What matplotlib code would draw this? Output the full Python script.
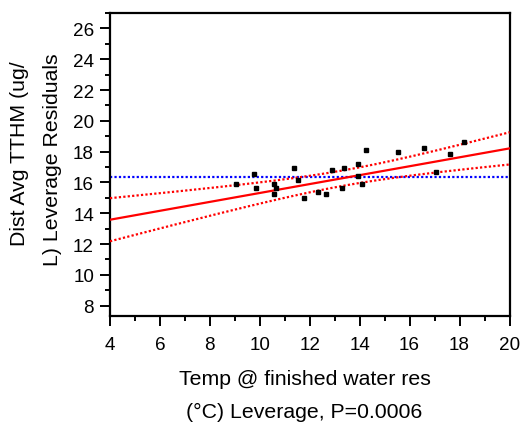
import numpy as np
import matplotlib
matplotlib.use("Agg")
import matplotlib.pyplot as plt
from matplotlib.ticker import MultipleLocator

plt.rcParams['font.family'] = ['Liberation Sans', 'DejaVu Sans']

# Data
temp = [9.05, 9.76, 9.84, 10.56, 10.64, 10.56, 11.36, 11.52, 11.76, 12.32, 12.64, 12.88,
        13.28, 13.36, 13.92, 13.92, 14.08, 14.24, 15.53, 16.57, 17.05, 17.61, 18.17]
resid = [15.92, 16.56, 15.66, 15.92, 15.66, 15.27, 16.95, 16.18, 15.01, 15.40, 15.27, 16.82,
         15.66, 16.95, 17.21, 16.43, 15.92, 18.12, 17.99, 18.25, 16.69, 17.86, 18.64]

mean_line = 16.37          # horizontal reference (blue)
fit_at_4 = 13.58           # fitted line value at x=4
fit_slope = 0.2894         # fitted slope
band_center_x = 13.4       # x where confidence curves are narrowest
band_min = 0.50            # half-width at narrowest point
band_growth = 0.139        # growth of half-width with distance from center

xticks = [4, 6, 8, 10, 12, 14, 16, 18, 20]
yticks = [8, 10, 12, 14, 16, 18, 20, 22, 24, 26]

fig = plt.figure(figsize=(5.26, 4.27), dpi=100)
ax = fig.add_axes([110/526, 1 - 317.3/427, (509.5-110)/526, (317.3-14)/427])

xs = np.linspace(4, 20, 200)
fit = fit_at_4 + fit_slope * (xs - 4)
half = np.sqrt(band_min**2 + band_growth**2 * (xs - band_center_x)**2)

ax.axhline(mean_line, color='#0000ff', lw=1.6, ls=(0, (1, 1)), zorder=2)
ax.plot(xs, fit, color='#ff0000', lw=1.6, zorder=3)
ax.plot(xs, fit + half, color='#ff0000', lw=1.6, ls=(0, (1, 1)), zorder=3)
ax.plot(xs, fit - half, color='#ff0000', lw=1.6, ls=(0, (1, 1)), zorder=3)
ax.plot(temp, resid, 's', color='black', ms=3.4, zorder=4)

ax.set_xlim(4, 20)
ax.set_ylim(7.31, 27)
ax.set_xticks(xticks)
ax.set_yticks(yticks)
ax.xaxis.set_minor_locator(MultipleLocator(1))
ax.yaxis.set_minor_locator(MultipleLocator(1))
ax.tick_params(which='major', length=7.5, width=1.4, labelsize=13.6, direction='out')
ax.tick_params(axis='x', which='major', pad=7)
ax.tick_params(axis='y', which='major', pad=4)
ax.tick_params(which='minor', length=3.3, width=1.4, direction='out')
for s in ax.spines.values():
    s.set_linewidth(1.6)
    s.set_color('black')

fs = 15.3
fig.text(305/526, 1 - 385/427, 'Temp @ finished water res', ha='center', va='baseline', fontsize=fs)
fig.text(304/526, 1 - 418/427, '(°C) Leverage, P=0.0006', ha='center', va='baseline', fontsize=fs)
fig.text(20/526, 1 - 154/427, 'Dist Avg TTHM (ug/', ha='center', va='center', rotation=90, fontsize=fs)
fig.text(53/526, 1 - 160/427, 'L) Leverage Residuals', ha='center', va='center', rotation=90, fontsize=fs)

fig.savefig('out.png', dpi=100)
